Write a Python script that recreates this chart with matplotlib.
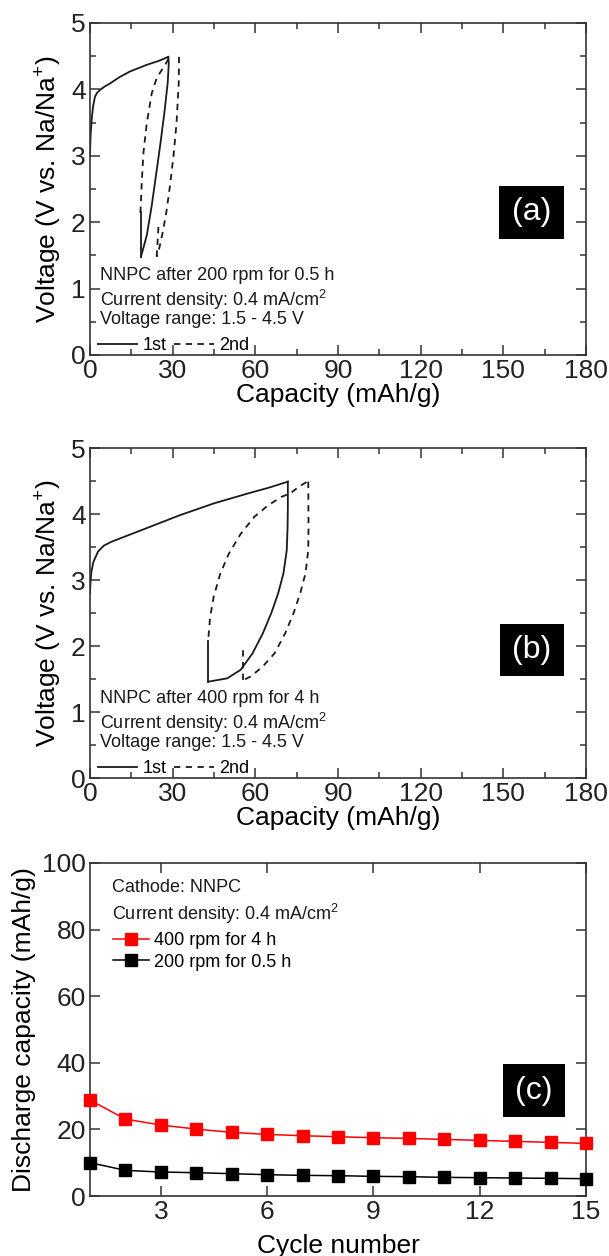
import matplotlib
matplotlib.use("Agg")
import matplotlib.pyplot as plt
from matplotlib.patches import Rectangle
from matplotlib.ticker import MultipleLocator

plt.rcParams['font.family'] = ['Liberation Sans', 'DejaVu Sans']
plt.rcParams['mathtext.fontset'] = 'custom'
plt.rcParams['mathtext.rm'] = 'Liberation Sans'

# ---------------- Panel (a): 200 rpm for 0.5 h ----------------
a_c1_chg_x = [0.0, 0.2, 0.6, 1.1, 1.8, 2.6, 3.6, 5.2, 7.3, 10.5, 14.5, 20.6, 25.0, 28.4]
a_c1_chg_v = [3.00, 3.30, 3.54, 3.74, 3.89, 3.95, 3.99, 4.04, 4.09, 4.18, 4.27, 4.37, 4.43, 4.49]
a_c1_dis_x = [28.4, 28.6, 28.2, 27.0, 25.6, 24.0, 22.4, 20.6, 18.5]
a_c1_dis_v = [4.49, 4.40, 4.10, 3.65, 3.20, 2.72, 2.25, 1.80, 1.48]
a_c1_rel_x = [18.5, 18.5]
a_c1_rel_v = [1.48, 2.15]
a_c2_chg_x = [18.3, 18.8, 19.4, 20.6, 22.4, 24.2, 26.0, 27.4, 28.6]
a_c2_chg_v = [2.14, 2.62, 3.05, 3.49, 3.94, 4.17, 4.29, 4.38, 4.47]
a_c2_dis_x = [32.3, 32.2, 31.4, 30.3, 29.0, 27.7, 26.4, 25.2, 24.2]
a_c2_dis_v = [4.49, 4.10, 3.49, 3.00, 2.54, 2.15, 1.85, 1.62, 1.48]
a_c2_rel_x = [24.2, 24.9]
a_c2_rel_v = [1.48, 1.97]

# ---------------- Panel (b): 400 rpm for 4 h ----------------
b_c1_chg_x = [0.0, 0.2, 0.5, 1.2, 2.9, 5.0, 7.8, 14.0, 20.2, 32.5, 44.9, 57.2, 65.0, 71.8]
b_c1_chg_v = [2.80, 2.98, 3.12, 3.27, 3.43, 3.52, 3.58, 3.68, 3.78, 3.98, 4.16, 4.31, 4.40, 4.49]
b_c1_dis_x = [71.8, 71.8, 71.7, 71.4, 70.2, 68.3, 65.8, 62.7, 59.0, 54.7, 49.8, 43.0]
b_c1_dis_v = [4.49, 4.10, 3.80, 3.45, 3.10, 2.80, 2.50, 2.19, 1.89, 1.64, 1.51, 1.46]
b_c1_rel_x = [43.0, 43.0]
b_c1_rel_v = [1.46, 2.08]
b_c2_chg_x = [43.0, 43.6, 44.9, 47.3, 50.4, 54.7, 59.7, 64.6, 69.5, 72.6, 75.7, 78.8]
b_c2_chg_v = [2.14, 2.44, 2.75, 3.10, 3.40, 3.70, 3.96, 4.13, 4.26, 4.31, 4.41, 4.49]
b_c2_dis_x = [79.2, 79.3, 79.2, 78.2, 76.3, 73.9, 70.8, 67.0, 62.7, 58.4, 56.0]
b_c2_dis_v = [4.49, 3.80, 3.45, 3.10, 2.80, 2.50, 2.19, 1.89, 1.69, 1.54, 1.49]
b_c2_rel_x = [55.6, 55.6]
b_c2_rel_v = [1.49, 1.97]

# ---------------- Panel (c): cycling ----------------
cycles = list(range(1, 16))
cap_400rpm_4h = [28.8, 23.1, 21.3, 20.1, 19.1, 18.5, 18.1, 17.8, 17.5, 17.3, 17.0, 16.7, 16.4, 16.1, 15.8]
cap_200rpm_05h = [10.0, 7.7, 7.2, 7.0, 6.7, 6.4, 6.2, 6.1, 5.9, 5.8, 5.6, 5.5, 5.4, 5.3, 5.2]

FS_TICK = 19
FS_LABEL = 19
FS_NOTE = 13
LW = 1.3

fig = plt.figure(figsize=(6.09, 12.56), dpi=100)
L, W = 90 / 609, 496 / 609
ax_a = fig.add_axes([L, 1 - 355 / 1256, W, 332 / 1256])
ax_b = fig.add_axes([L, 1 - 778 / 1256, W, 330 / 1256])
ax_c = fig.add_axes([L, 1 - 1196 / 1256, W, 333 / 1256])


def style_axes(ax):
    for s in ax.spines.values():
        s.set_linewidth(1.2)
        s.set_color('#333333')
    ax.tick_params(which='both', direction='in', top=True, right=True,
                   labelsize=FS_TICK, width=1.1, colors='#333333', labelcolor='#222222', pad=3)
    ax.tick_params(which='major', length=7)
    ax.tick_params(which='minor', length=4.5)


def label_box(ax, txt, x0, y0, x1, y1):
    ax.add_patch(Rectangle((x0, y0), x1 - x0, y1 - y0, transform=ax.transAxes,
                           facecolor='black', edgecolor='none', zorder=5))
    ax.text((x0 + x1) / 2, (y0 + y1) / 2, txt, transform=ax.transAxes, color='white',
            fontsize=23, ha='center', va='center', zorder=6)


def voltage_panel(ax, curves, note, box_txt, box):
    for i, (xs, vs) in enumerate(curves):
        ls = '-' if i < 3 else (0, (3.5, 3.0))
        lab = None
        if i == 0:
            lab = '1st'
        if i == 3:
            lab = '2nd'
        ax.plot(xs, vs, color='#1a1a1a', lw=LW, ls=ls, label=lab)
    ax.set_xlim(0, 180)
    ax.set_ylim(0, 5)
    ax.xaxis.set_major_locator(MultipleLocator(30))
    ax.xaxis.set_minor_locator(MultipleLocator(15))
    ax.yaxis.set_major_locator(MultipleLocator(1))
    ax.yaxis.set_minor_locator(MultipleLocator(0.5))
    style_axes(ax)
    ax.set_xlabel('Capacity (mAh/g)', fontsize=FS_LABEL, labelpad=0)
    ax.set_ylabel('Voltage (V vs. Na/Na$^{+}$)', fontsize=FS_LABEL, labelpad=6)
    ax.text(0.02, 0.24, note, transform=ax.transAxes, fontsize=FS_NOTE, va='center', color='#1a1a1a')
    ax.text(0.02, 0.166, 'Current density: 0.4 mA/cm$^{2}$', transform=ax.transAxes,
            fontsize=FS_NOTE, va='center', color='#1a1a1a')
    ax.text(0.02, 0.107, 'Voltage range: 1.5 - 4.5 V', transform=ax.transAxes,
            fontsize=FS_NOTE, va='center', color='#1a1a1a')
    ax.legend(loc='lower left', bbox_to_anchor=(-0.01, -0.035), ncol=2, frameon=False,
              fontsize=FS_NOTE, handlelength=2.2, handletextpad=0.3, columnspacing=0.4,
              borderpad=0.2)
    label_box(ax, box_txt, *box)


voltage_panel(ax_a,
              [(a_c1_chg_x, a_c1_chg_v), (a_c1_dis_x, a_c1_dis_v), (a_c1_rel_x, a_c1_rel_v),
               (a_c2_chg_x, a_c2_chg_v), (a_c2_dis_x, a_c2_dis_v), (a_c2_rel_x, a_c2_rel_v)],
              'NNPC after 200 rpm for 0.5 h', '(a)', (0.825, 0.349, 0.955, 0.51))
voltage_panel(ax_b,
              [(b_c1_chg_x, b_c1_chg_v), (b_c1_dis_x, b_c1_dis_v), (b_c1_rel_x, b_c1_rel_v),
               (b_c2_chg_x, b_c2_chg_v), (b_c2_dis_x, b_c2_dis_v), (b_c2_rel_x, b_c2_rel_v)],
              'NNPC after 400 rpm for 4 h', '(b)', (0.826, 0.308, 0.956, 0.467))

# Panel (c)
ax_c.plot(cycles, cap_400rpm_4h, color='#ff0000', lw=1.1, marker='s', ms=9,
          mfc='#ff0000', mec='#ff0000', clip_on=False, label='400 rpm for 4 h', zorder=4)
ax_c.plot(cycles, cap_200rpm_05h, color='#000000', lw=1.1, marker='s', ms=9,
          mfc='#000000', mec='#000000', clip_on=False, label='200 rpm for 0.5 h', zorder=4)
ax_c.set_xlim(1, 15)
ax_c.set_ylim(0, 100)
ax_c.xaxis.set_major_locator(MultipleLocator(3))
ax_c.yaxis.set_major_locator(MultipleLocator(20))
style_axes(ax_c)
ax_c.set_xlabel('Cycle number', fontsize=FS_LABEL, labelpad=7)
ax_c.set_ylabel('Discharge capacity (mAh/g)', fontsize=FS_LABEL, labelpad=4)
ax_c.text(0.045, 0.925, 'Cathode: NNPC', transform=ax_c.transAxes, fontsize=FS_NOTE,
          va='center', color='#1a1a1a')
ax_c.text(0.045, 0.848, 'Current density: 0.4 mA/cm$^{2}$', transform=ax_c.transAxes,
          fontsize=FS_NOTE, va='center', color='#1a1a1a')
ax_c.legend(loc='upper left', bbox_to_anchor=(0.02, 0.83), frameon=False, fontsize=FS_NOTE,
            handlelength=2.0, handletextpad=0.3, labelspacing=0.25, borderpad=0.2)
label_box(ax_c, '(c)', 0.832, 0.238, 0.957, 0.395)

fig.savefig('out.png', dpi=100)
